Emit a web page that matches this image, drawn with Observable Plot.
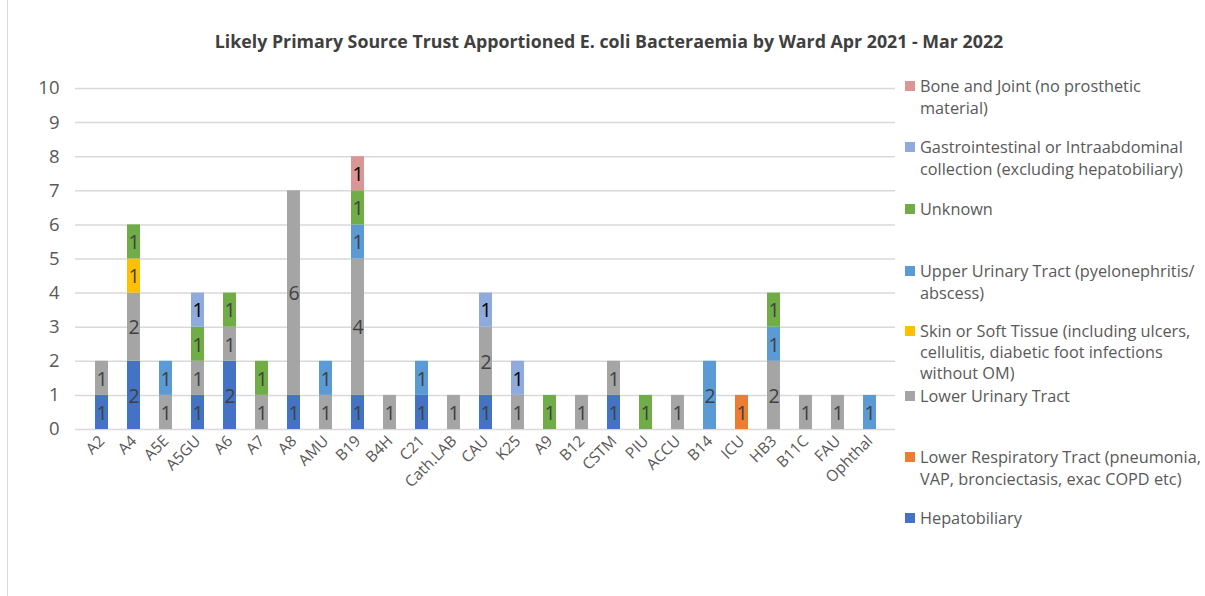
<!DOCTYPE html>
<html>
<head>
<meta charset="utf-8">
<script src="https://cdn.jsdelivr.net/npm/d3@7"></script>
<script src="https://cdn.jsdelivr.net/npm/@observablehq/plot@0.6"></script>
<style>
  html, body { margin: 0; padding: 0; background: #fff; }
  #wrap { position: relative; width: 1205px; height: 596px; overflow: hidden; font-family: "Open Sans", Lato, sans-serif; }
  #frame { position: absolute; left: 7px; top: -2px; width: 1300px; height: 1000px; border: 1px solid #d9d9d9; box-sizing: border-box; }
  #title { position: absolute; left: 0; width: 1218px; top: 29px; text-align: center; font-weight: bold; font-size: 17.8px; color: #404040; }
  #chart { position: absolute; left: 0; top: 0; }
  .leg { position: absolute; left: 920px; width: 300px; font-size: 16.3px; line-height: 22px; color: #595959; white-space: pre; }
  .sw { position: absolute; left: 905px; width: 10px; height: 10px; }
</style>
</head>
<body>
<div id="wrap">
  <div id="frame"></div>
  <div id="chart"></div>
  <div id="title">Likely Primary Source Trust Apportioned E. coli Bacteraemia by Ward Apr 2021 - Mar 2022</div>
</div>
<script>
const wards = ["A2","A4","A5E","A5GU","A6","A7","A8","AMU","B19","B4H","C21","Cath.LAB","CAU","K25","A9","B12","CSTM","PIU","ACCU","B14","ICU","HB3","B11C","FAU","Ophthal"];

// stacking order bottom -> top
const sources = [
  "Hepatobiliary",
  "Lower Respiratory Tract (pneumonia, VAP, bronciectasis, exac COPD etc)",
  "Lower Urinary Tract",
  "Skin or Soft Tissue (including ulcers, cellulitis, diabetic foot infections without OM)",
  "Upper Urinary Tract (pyelonephritis/ abscess)",
  "Unknown",
  "Gastrointestinal or Intraabdominal collection (excluding hepatobiliary)",
  "Bone and Joint (no prosthetic material)"
];
// legend text as wrapped in the reference
const legendLines = [
  ["Hepatobiliary"],
  ["Lower Respiratory Tract (pneumonia,", "VAP, bronciectasis, exac COPD etc)"],
  ["Lower Urinary Tract"],
  ["Skin or Soft Tissue (including ulcers,", "cellulitis, diabetic foot infections", "without OM)"],
  ["Upper Urinary Tract (pyelonephritis/", "abscess)"],
  ["Unknown"],
  ["Gastrointestinal or Intraabdominal", "collection (excluding hepatobiliary)"],
  ["Bone and Joint (no prosthetic", "material)"]
];
const colors = ["#4472C4","#ED7D31","#A5A5A5","#FFC000","#5B9BD5","#70AD47","#8FAADC","#DA9694"];
const labelColors = ["#404040","#404040","#404040","#404040","#404040","#404040","#000000","#000000"];

const hepatobiliary  = [1,2,0,1,2,0,1,0,1,0,1,0,1,0,0,0,1,0,0,0,0,0,0,0,0];
const lowerResp      = [0,0,0,0,0,0,0,0,0,0,0,0,0,0,0,0,0,0,0,0,1,0,0,0,0];
const lowerUrinary   = [1,2,1,1,1,1,6,1,4,1,0,1,2,1,0,1,1,0,1,0,0,2,1,1,0];
const skinSoft       = [0,1,0,0,0,0,0,0,0,0,0,0,0,0,0,0,0,0,0,0,0,0,0,0,0];
const upperUrinary   = [0,0,1,0,0,0,0,1,1,0,1,0,0,0,0,0,0,0,0,2,0,1,0,0,1];
const unknown        = [0,1,0,1,1,1,0,0,1,0,0,0,0,0,1,0,0,1,0,0,0,1,0,0,0];
const gastro         = [0,0,0,1,0,0,0,0,0,0,0,0,1,1,0,0,0,0,0,0,0,0,0,0,0];
const boneJoint      = [0,0,0,0,0,0,0,0,1,0,0,0,0,0,0,0,0,0,0,0,0,0,0,0,0];

const yTicks = [0,1,2,3,4,5,6,7,8,9,10];

const seriesValues = [hepatobiliary, lowerResp, lowerUrinary, skinSoft, upperUrinary, unknown, gastro, boneJoint];
const data = [];
sources.forEach((s, si) => {
  seriesValues[si].forEach((v, wi) => {
    if (v > 0) data.push({ward: wards[wi], source: s, value: v, labelColor: labelColors[si]});
  });
});

const chart = Plot.plot({
  width: 900,
  height: 560,
  marginTop: 88,
  marginBottom: 131,
  marginLeft: 75,
  marginRight: 5,
  style: { fontFamily: "'Open Sans', Lato, sans-serif", background: "transparent", color: "#595959" },
  x: { domain: wards, paddingInner: 0.6, paddingOuter: 0.3, label: null, tickSize: 0, tickRotate: -45, tickPadding: 6 },
  y: { domain: [0, 10], ticks: yTicks, label: null, tickSize: 0, tickPadding: 18 },
  color: { domain: sources, range: colors },
  marks: [
    Plot.gridY(yTicks, { stroke: "#d9d9d9", strokeOpacity: 1, strokeWidth: 1.5 }),
    Plot.axisY({ ticks: yTicks, tickSize: 0, tickPadding: 16, fontSize: 18.5, fill: "#595959", label: null }),
    Plot.axisX({ tickSize: 0, tickRotate: -45, tickPadding: 9, fontSize: 15.5, fill: "#595959", label: null }),
    Plot.barY(data, Plot.stackY({ x: "ward", y: "value", z: "source", fill: "source", order: sources })),
    Plot.text(data, Plot.stackY({ x: "ward", y: "value", z: "source", order: sources, text: d => String(d.value), fill: "labelColor", fontSize: 19.5, dy: 1 }))
  ]
});
document.getElementById("chart").appendChild(chart);

// Legend (top item = last in stack order)
const wrap = document.getElementById("wrap");
const legendCenters = [518, 457, 396, 331, 271, 209, 147, 86];
sources.forEach((s, i) => {
  const c = legendCenters[i];
  const lh = legendLines[i].length === 3 ? 21 : 22;
  const sw = document.createElement("div");
  sw.className = "sw";
  sw.style.top = (c - 5) + "px";
  sw.style.background = colors[i];
  wrap.appendChild(sw);
  const t = document.createElement("div");
  t.className = "leg";
  t.style.lineHeight = lh + "px";
  t.style.top = (c - lh / 2) + "px";
  t.textContent = legendLines[i].join("\n");
  wrap.appendChild(t);
});
</script>
</body>
</html>
